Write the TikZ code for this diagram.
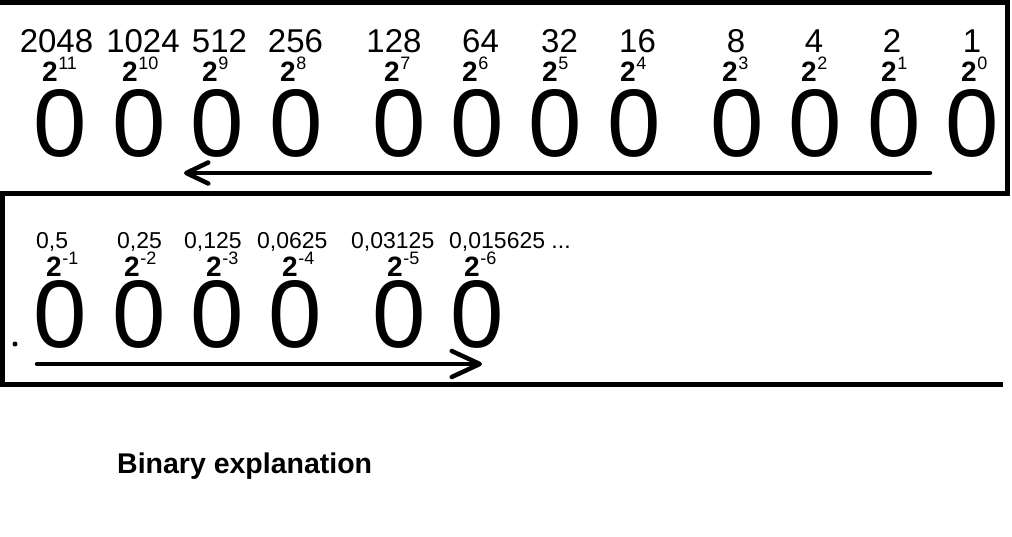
\documentclass[tikz,border=0pt]{standalone}
\usepackage{fontspec}
\setmainfont{Liberation Sans}
\usetikzlibrary{arrows.meta}
\newcommand\powtwo[1]{{\bfseries 2}\kern0.5pt\raisebox{12pt}{\fontsize{18}{18}\selectfont #1}}
\begin{document}
\begin{tikzpicture}[x=1pt,y=-1pt,
  bigzero/.style={anchor=base,inner sep=0pt,font=\fontsize{96}{96}\selectfont},
  weight/.style={anchor=base,inner sep=0pt,font=\fontsize{33}{33}\selectfont},
  fracw/.style={anchor=base west,inner sep=0pt,font=\fontsize{23}{23}\selectfont},
  power/.style={anchor=base west,inner sep=0pt,font=\fontsize{28}{28}\selectfont},
  border/.style={line width=5pt},
  arrowline/.style={line width=4.5pt,line cap=round,line join=round}]
\useasboundingbox (0,0) rectangle (1012,536);
\fill[white] (0,0) rectangle (1012,536);
% frames
\draw[border] (0,2) -- (1007,2) -- (1007,193);
\draw[border] (0,193) -- (1009.5,193);
\draw[border] (2,193) -- (2,384.5) -- (1003,384.5);
% top row
\foreach \x/\t [count=\i] in {56.5/2048,143/1024,219.5/512,295.5/256,394/128,480.5/64,559.5/32,637.5/16,736/8,814/4,892/2,972/1}
  \node[weight] (w\i) at (\x,52) {\t};
\foreach \x/\e [count=\i] in {42/11,122/10,202/9,280/8,384/7,462/6,542/5,620/4,722/3,801/2,881/1,961/0}
  \node[power] (p\i) at (\x,81) {\powtwo{\e}};
\foreach \x [count=\i] in {60.5,139,217.5,296,399.5,477.5,555.5,634.5,737.5,815.5,894.5,972.5}
  \node[bigzero] (t\i) at (\x,156) {0};
\coordinate (a1s) at (930,173);
\coordinate (a1e) at (184,173);
\draw[arrowline,-{Straight Barb[length=22pt,width=21pt,round]}] (a1s) -- (a1e);
% bottom row
\node[fracw] (f1) at (36,248) {0,5};
\node[fracw] (f2) at (117,248) {0,25};
\node[fracw] (f3) at (184,248) {0,125};
\node[fracw] (f4) at (257,248) {0,0625};
\node[fracw] (f5) at (351,248) {0,03125};
\node[fracw] (f6) at (449,248) {0,015625 ...};
\foreach \x/\e [count=\i] in {46/-1,124/-2,206/-3,282/-4,387/-5,464/-6}
  \node[power] (q\i) at (\x,276) {\powtwo{\e}};
\foreach \x [count=\i] in {60.5,139.5,217.5,295.5,399.5,477.5}
  \node[bigzero] (b\i) at (\x,347) {0};
\fill (15,344) circle (2.5);
\coordinate (a2s) at (37,364);
\coordinate (a2e) at (482,364);
\draw[arrowline,-{Straight Barb[length=28pt,width=26pt,round]}] (a2s) -- (a2e);
% caption
\node[anchor=base west,inner sep=0pt,font=\fontsize{28.5}{28.5}\selectfont\bfseries] (title) at (117,473) {Binary explanation};
\end{tikzpicture}
\end{document}
